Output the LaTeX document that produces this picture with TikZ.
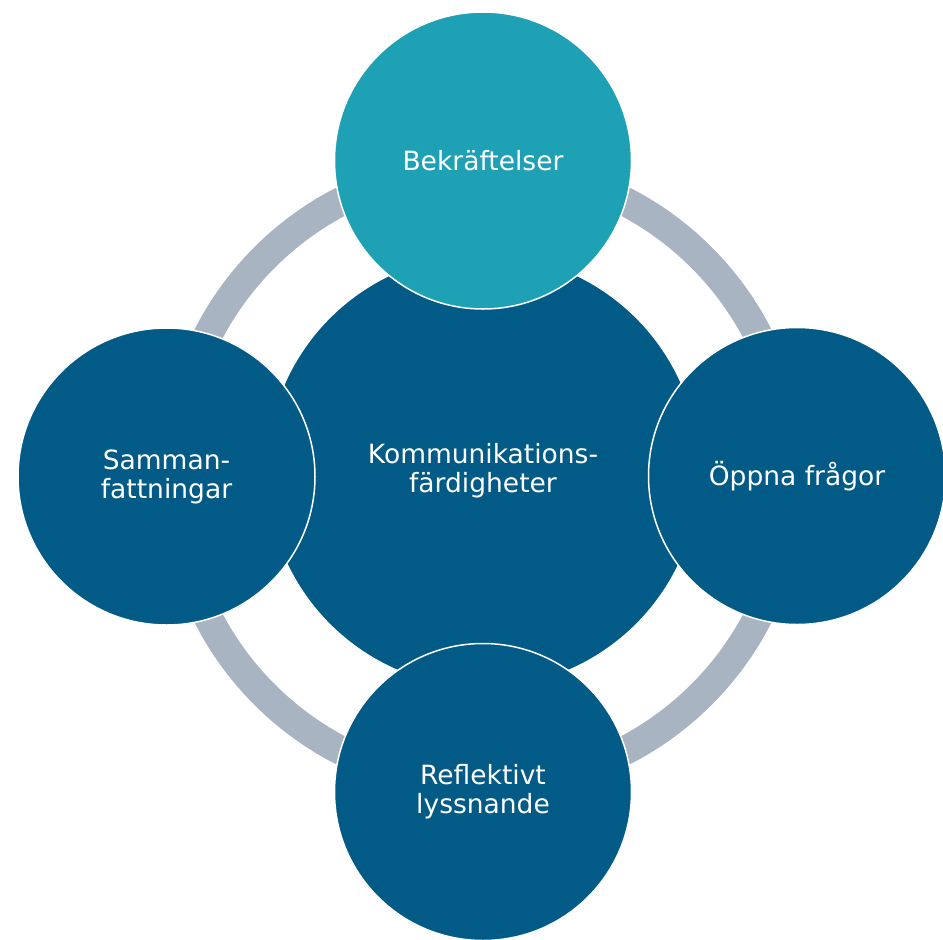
\documentclass[tikz,border=0pt]{standalone}
\usepackage{fontspec}
\setmainfont{DejaVu Sans}
\definecolor{darkb}{HTML}{025B87}
\definecolor{tealc}{HTML}{1EA1B4}
\definecolor{ringc}{HTML}{A9B4C2}
\begin{document}
\begin{tikzpicture}[x=1pt,y=-1pt]
\useasboundingbox (0,0) rectangle (943,940);
\tikzset{
  bubble/.style={circle, fill=darkb, draw=white, line width=1.5pt, minimum size=297pt, inner sep=0pt, text=white, align=center, font=\fontsize{26.5}{29}\selectfont},
  ringstyle/.style={draw=ringc, line width=29pt}
}
\coordinate (c) at (483,476);
\draw[ringstyle] (c) circle[radius=309pt];
\node[bubble, minimum size=434pt] (center) at (483,471) {Kommunikations-\\färdigheter};
\node[bubble, fill=tealc] (top) at (483,160.5) {Bekräftelser};
\node[bubble] (right) at (797,476) {Öppna frågor};
\node[bubble] (bottom) at (483,792) {Reflektivt\\lyssnande};
\node[bubble] (left) at (166.5,476.5) {Samman-\\fattningar};
\end{tikzpicture}
\end{document}
